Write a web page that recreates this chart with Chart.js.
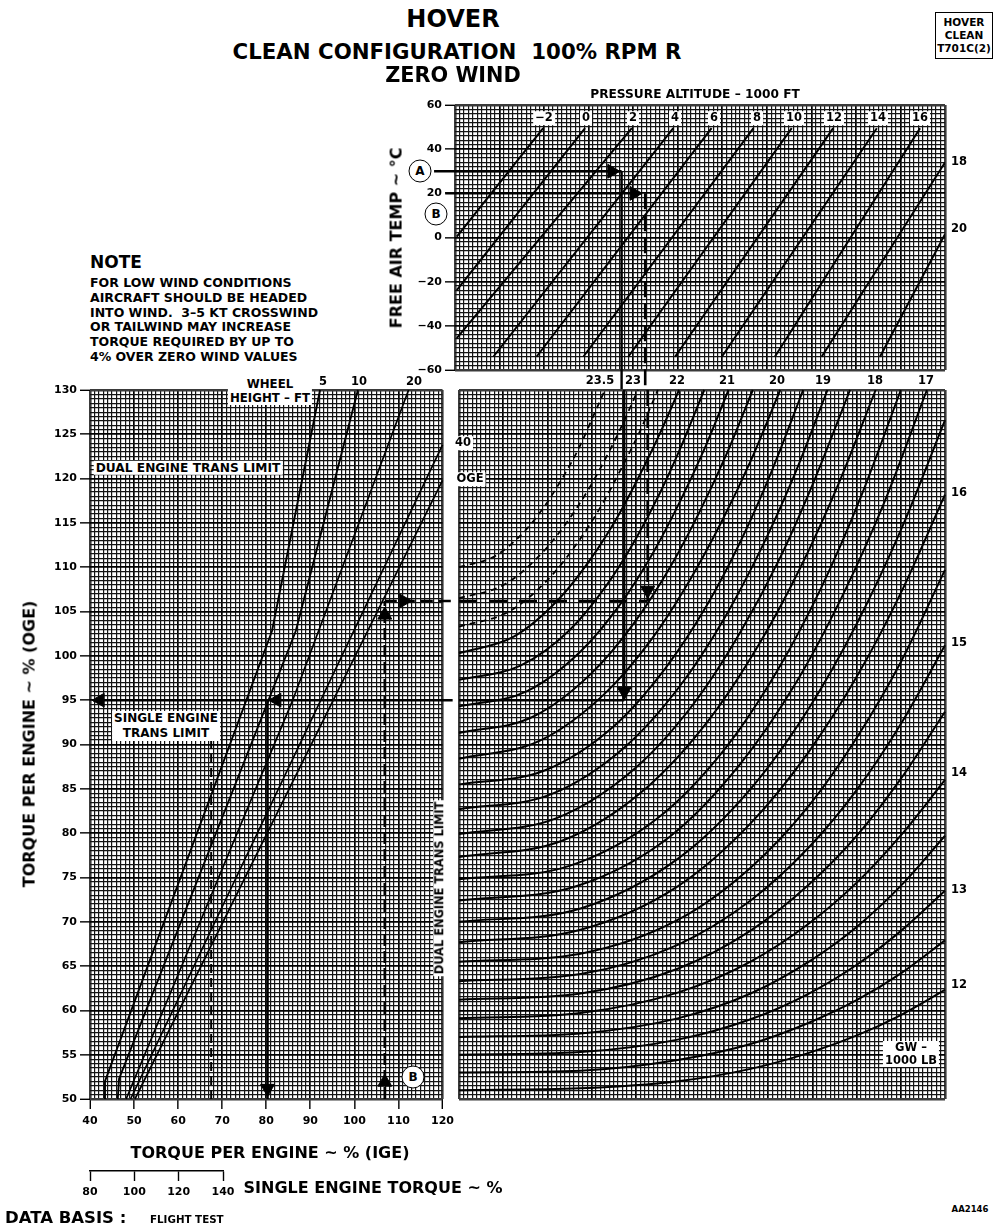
<!DOCTYPE html>
<html>
<head>
<meta charset="utf-8">
<title>HOVER - Clean Configuration 100% RPM R - Zero Wind</title>
<script src="https://cdn.jsdelivr.net/npm/chart.js@4.4.1/dist/chart.umd.min.js"></script>
<style>
  html, body { margin: 0; padding: 0; background: #fff; }
  body { position: relative; width: 997px; height: 1232px; overflow: hidden;
         font-family: "DejaVu Sans", "Liberation Sans", Arial, sans-serif; font-weight: bold; color: #000; }
  canvas { position: absolute; }
  .lbl { position: absolute; white-space: nowrap; line-height: 1.18; transform: translate(-50%, -50%); }
  .bg { background: #fff; padding: 0 2px; }
  .circ { position: absolute; width: 21px; height: 21px; border: 1.6px solid #000; border-radius: 50%;
          background: #fff; transform: translate(-50%, -50%); font-size: 12px; line-height: 21px; text-align: center; }
  .box { position: absolute; border: 1px solid #000; text-align: center; font-size: 10.5px; line-height: 13px; padding: 3px 0; }
</style>
</head>
<body>
<canvas id="cL" width="460" height="780" style="left:0px;top:370px"></canvas>
<canvas id="cTR" width="600" height="312" style="left:380px;top:80px"></canvas>
<canvas id="cBR" width="547" height="730" style="left:450px;top:380px"></canvas>
<canvas id="cSE" width="200" height="60" style="left:60px;top:1150px"></canvas>

<script>
// ===================== DATA =====================
// Tick labels
const torqueTicks = [50, 55, 60, 65, 70, 75, 80, 85, 90, 95, 100, 105, 110, 115, 120, 125, 130];
const igeTicks = [40, 50, 60, 70, 80, 90, 100, 110, 120];
const oatTicks = [-60, -40, -20, 0, 20, 40, 60];
const singleEngineTicks = [80, 100, 120, 140];
const paTopLabels = ['\u22122', '0', '2', '4', '6', '8', '10', '12', '14', '16'];
const paSideLabels = ['18', '20'];
const gwTopLabels = ['23.5', '23', '22', '21', '20', '19', '18', '17'];
const gwSideLabels = ['16', '15', '14', '13', '12'];
const wheelTopLabels = ['5', '10', '20'];
const wheelSideLabels = ['40', 'OGE'];

// Pressure altitude lines (reference scale 0-110, free air temp degC), 1000 ft
const paM2 = [[0.4, 0.4], [19.8, 49.5]];
const pa0 = [[0.4, -23.8], [29.2, 49.5]];
const pa2 = [[0.4, -45.6], [39.7, 49.5]];
const pa4 = [[8.6, -54], [49.0, 49.5]];
const pa6 = [[18.3, -54], [57.6, 49.5]];
const pa8 = [[28.8, -54], [67.0, 49.5]];
const pa10 = [[38.9, -54], [75.6, 49.5]];
const pa12 = [[49.4, -54], [84.9, 49.5]];
const pa14 = [[59.9, -54], [94.7, 49.5]];
const pa16 = [[71.8, -54], [104.4, 49.5]];
const pa18 = [[82.3, -54], [110, 34.0]];
const pa20 = [[95.4, -54], [110, 1.5]];

// Gross weight curves (reference scale 0-110, torque per engine % OGE), 1000 lb
const gw12 = [[0, 51.0], [27.5, 51.2], [49.5, 52.0], [66, 53.4], [79.2, 55.2], [90.2, 57.2], [100.1, 59.5], [110, 62.3]];
const gw12h = [[0, 53.0], [27.5, 53.2], [49.5, 54.4], [66, 56.2], [79.2, 58.6], [90.2, 61.2], [100.1, 64.2], [110, 67.9]];
const gw13 = [[0, 55.0], [27.5, 55.3], [49.5, 56.7], [66, 59.0], [79.2, 61.9], [90.2, 65.2], [100.1, 69.0], [110, 73.5]];
const gw13h = [[0, 57.0], [27.5, 57.4], [49.5, 59.1], [66, 61.9], [79.2, 65.5], [90.2, 69.5], [100.1, 74.1], [110, 79.7]];
const gw14 = [[0, 59.1], [27.5, 59.7], [49.5, 62.0], [66, 65.5], [79.2, 69.8], [90.2, 74.5], [100.1, 79.8], [110, 86.0]];
const gw14h = [[0, 61.2], [27.5, 61.9], [49.5, 64.7], [66, 69.0], [79.2, 74.2], [90.2, 79.8], [100.1, 86.2], [110, 93.7]];
const gw15 = [[0, 63.3], [27.5, 64.1], [49.5, 67.4], [66, 72.4], [79.2, 78.4], [90.2, 85.0], [100.1, 92.4], [110, 101.2]];
const gw15h = [[0, 65.5], [27.5, 66.4], [49.5, 70.2], [66, 76.1], [79.2, 83.1], [90.2, 90.9], [100.1, 99.4], [110, 109.7]];
const gw16 = [[0, 67.7], [27.5, 69.1], [49.5, 74.0], [66, 81.1], [79.2, 89.2], [90.2, 97.8], [100.1, 107.2], [110, 118.2]];
const gw16h = [[0, 70.0], [27.5, 71.5], [49.5, 77.1], [66, 85.0], [79.2, 94.1], [90.2, 103.8], [100.1, 114.3], [110, 126.6]];
const gw17 = [[0, 72.4], [26.5, 74.0], [47.7, 79.6], [63.5, 87.7], [76.2, 96.9], [86.8, 106.8], [96.4, 117.5], [105.9, 130]];
const gw17h = [[0, 74.8], [25, 76.3], [45, 81.7], [60, 89.4], [72, 98.3], [82, 107.7], [91, 118.0], [100, 130]];
const gw18 = [[0, 77.3], [23.6, 79.2], [42.4, 85.1], [56.6, 92.8], [67.9, 101.3], [77.3, 110.0], [85.8, 119.3], [94.3, 130]];
const gw18h = [[0, 79.9], [22.1, 81.7], [39.8, 87.3], [53.1, 94.6], [63.7, 102.7], [72.6, 111.0], [80.5, 119.9], [88.5, 130]];
const gw19 = [[0, 82.7], [20.9, 84.4], [37.5, 89.7], [50, 96.6], [60, 104.2], [68.4, 112.1], [75.9, 120.4], [83.4, 130]];
const gw19h = [[0, 85.5], [19.5, 87.1], [35.1, 92.1], [46.7, 98.6], [56.1, 105.7], [63.9, 113.1], [70.9, 121.0], [77.9, 130]];
const gw20 = [[0, 88.4], [18.2, 90.4], [32.7, 95.6], [43.6, 101.9], [52.3, 108.6], [59.6, 115.3], [66.2, 122.2], [72.7, 130]];
const gw20h = [[0, 91.3], [16.6, 93.1], [29.9, 98.0], [39.9, 103.9], [47.9, 110.1], [54.5, 116.3], [60.5, 122.7], [66.5, 130]];
const gw21 = [[0, 94.3], [15.3, 96.0], [27.5, 100.5], [36.6, 105.9], [43.9, 111.6], [50, 117.4], [55.5, 123.3], [61, 130]];
const gw21h = [[0, 97.3], [13.9, 98.9], [25, 102.9], [33.3, 107.9], [40, 113.2], [45.5, 118.4], [50.5, 123.9], [55.5, 130]];
const gw22 = [[0, 100.3], [12.5, 102.2], [22.4, 106.3], [29.9, 111.0], [35.9, 115.7], [40.8, 120.3], [45.3, 124.9], [49.8, 130]];
const gw22h = [[0, 103.3], [11.3, 105.0], [20.3, 108.7], [27, 112.9], [32.4, 117.1], [36.9, 121.3], [41, 125.4], [45, 130]];
const gw23 = [[0, 106.5], [10.1, 108.0], [18.2, 111.3], [24.3, 115.0], [29.2, 118.7], [33.2, 122.3], [36.9, 126.0], [40.5, 130]];
const gw23h = [[0, 110], [8.3, 111.3], [14.9, 114.1], [19.8, 117.2], [23.8, 120.4], [27.1, 123.4], [30, 126.6], [33, 130]];

// Wheel height lines (torque IGE %, torque OGE %)
const wheel5 = [[43.4, 50], [43.4, 52], [81.3, 102.8], [92.2, 130]];
const wheel10 = [[46.3, 50], [46.6, 52.3], [86.7, 102.8], [100.8, 130]];
const wheel20 = [[48.2, 50], [86.0, 95], [112.3, 130]];
const wheel40 = [[49.2, 50], [120, 123.8]];
const wheelOGE = [[50.2, 50], [120, 119.8]];

// Single engine transmission limit (torque IGE %)
const singleEngineLimit = [[67.5, 50], [67.5, 91]];

// Example A (solid) and example B (dashed)
const pathA_oat = [[-4.7, 30], [37.4, 30]];
const pathA_dropTop = [[37.4, 30], [37.4, -69.1]];
const pathA_dropGW = [[37.4, 130], [37.4, 95]];
const pathA_acrossGW = [[0, 95], [37.4, 95]];
const pathA_acrossWheel = [[40.7, 95], [122.3, 95]];
const pathA_downIGE = [[80.3, 95], [80.3, 50]];
const pathB_oat = [[-2.2, 20], [42.0, 20]];
const pathB_dropTop = [[42.7, 20], [42.7, -69.1]];
const pathB_dropGW = [[42.7, 130], [42.7, 106.2]];
const pathB_acrossGW = [[0, 106.2], [42.7, 106.2]];
const pathB_acrossWheel = [[106.9, 106.2], [122.3, 106.2]];
const pathB_upIGE = [[106.9, 50], [106.9, 106.2]];

// Arrow heads
const arrowsTop = [[35.2, 30], [40.2, 20]];
const arrowsGW = [[37.4, 96.0], [42.7, 107.4]];
const arrowsWheel = [[42.3, 95], [82.4, 95], [80.3, 51.2], [106.9, 104.6], [111.2, 106.2], [106.9, 51.9]];

// ===================== CHARTS =====================
Chart.defaults.font.family = '"DejaVu Sans", "Liberation Sans", sans-serif';
Chart.defaults.font.weight = 'bold';
Chart.defaults.color = '#000';

const near = (a, b) => Math.abs(a - b) < 1e-6;
const inList = (list, v) => !!list && list.some(x => near(x, v));
const minus = v => (v < 0 ? '\u2212' + Math.abs(v) : String(v));
function steps(min, max, step) {
  const out = [], n = Math.round((max - min) / step);
  for (let i = 0; i <= n; i++) out.push(+(min + i * step).toFixed(4));
  return out;
}

function gridAxis({ pos, min, max, step, major, labels, size, tickLen = 0, pad = 3, fmt = String }) {
  const vals = steps(min, max, step);
  const val = c => (c.tick ? c.tick.value : NaN);
  const isMajor = v => Math.abs(v / major - Math.round(v / major)) < 1e-6;
  const isEdge = v => near(v, min) || near(v, max);
  return {
    type: 'linear', position: pos, min, max,
    afterBuildTicks: s => { s.ticks = vals.map(v => ({ value: v })); },
    afterFit: s => { if (pos === 'left' || pos === 'right') s.width = size; else s.height = size; },
    ticks: {
      autoSkip: false, display: !!labels, padding: pad, color: '#000', maxRotation: 0,
      font: { size: 11, weight: 'bold' },
      callback: v => (inList(labels, v) ? fmt(v) : '')
    },
    grid: {
      drawTicks: tickLen > 0, tickLength: tickLen, tickWidth: 1.4,
      color: c => (isEdge(val(c)) ? '#3a3a3a' : isMajor(val(c)) ? '#000' : '#141414'),
      lineWidth: c => (isEdge(val(c)) ? 2.6 : isMajor(val(c)) ? 1.7 : 1.2),
      tickColor: c => (inList(labels, val(c)) ? '#000' : 'rgba(0,0,0,0)')
    },
    border: { display: false }
  };
}

const xy = arr => arr.map(([x, y]) => ({ x, y }));
function lineDs(arr, extra = {}) {
  return Object.assign({
    data: xy(arr), showLine: true, borderColor: '#000', borderWidth: 2,
    pointRadius: 0, fill: false, clip: false
  }, extra);
}
const curve = (arr, extra = {}) => lineDs(arr, Object.assign({ cubicInterpolationMode: 'monotone', borderWidth: 2 }, extra));
const dashed = (arr, extra = {}) => lineDs(arr, Object.assign({ borderDash: [10, 5], borderWidth: 2.2 }, extra));
function arrowDs(arr, rotations) {
  return {
    data: xy(arr), showLine: false, pointStyle: 'triangle', pointRadius: 8, pointRotation: rotations,
    pointBackgroundColor: '#000', pointBorderColor: '#000', pointBorderWidth: 1, clip: false
  };
}
const baseOpts = (padding, scales) => ({
  responsive: false, animation: false, events: [],
  layout: { padding },
  plugins: { legend: { display: false }, tooltip: { enabled: false } },
  scales
});

// ---- Left panel: torque per engine IGE vs OGE, wheel height ----
new Chart(document.getElementById('cL'), {
  type: 'scatter',
  data: {
    datasets: [
      lineDs(wheel5, { borderWidth: 1.9 }),
      lineDs(wheel10, { borderWidth: 1.9 }),
      lineDs(wheel20, { borderWidth: 1.7 }),
      lineDs(wheel40, { borderWidth: 1.7 }),
      lineDs(wheelOGE, { borderWidth: 1.7 }),
      dashed(singleEngineLimit, { borderDash: [9, 5], borderWidth: 2 }),
      lineDs(pathA_acrossWheel, { borderWidth: 2.4 }),
      lineDs(pathA_downIGE, { borderWidth: 2.4 }),
      dashed(pathB_upIGE, { borderWidth: 2.6, borderDash: [12, 5] }),
      dashed(pathB_acrossWheel, { borderWidth: 2.6, borderDash: [12, 6] }),
      arrowDs(arrowsWheel, [270, 270, 180, 0, 90, 0])
    ]
  },
  options: baseOpts({ left: 0, top: 20, right: 15, bottom: 0 }, {
    x: gridAxis({ pos: 'bottom', min: 40, max: 120, step: 1, major: 10, labels: igeTicks, size: 51, tickLen: 10, pad: 6 }),
    y: gridAxis({ pos: 'left', min: 50, max: 130, step: 0.5, major: 5, labels: torqueTicks, size: 90, tickLen: 10, pad: 3 })
  })
});

// ---- Top right panel: free air temperature vs pressure altitude ----
const paLines = [paM2, pa0, pa2, pa4, pa6, pa8, pa10, pa12, pa14, pa16, pa18, pa20];
new Chart(document.getElementById('cTR'), {
  type: 'scatter',
  data: {
    datasets: [
      ...paLines.map(a => lineDs(a, { clip: true })),
      lineDs(pathA_oat, { borderWidth: 2.4 }),
      lineDs(pathA_dropTop, { borderWidth: 2.4 }),
      lineDs(pathB_oat, { borderWidth: 2.4 }),
      dashed(pathB_dropTop, { borderWidth: 2.6, borderDash: [16, 6] }),
      arrowDs(arrowsTop, [90, 90])
    ]
  },
  options: baseOpts({ left: 0, top: 25, right: 35, bottom: 22 }, {
    x: gridAxis({ pos: 'bottom', min: 0, max: 110, step: 1, major: 10, labels: null, size: 0 }),
    y: gridAxis({ pos: 'left', min: -60, max: 60, step: 2, major: 20, labels: oatTicks, size: 75, tickLen: 10, pad: 3, fmt: minus })
  })
});

// ---- Bottom right panel: torque OGE vs gross weight ----
const gwSolid = [gw12, gw12h, gw13, gw13h, gw14, gw14h, gw15, gw15h, gw16, gw16h, gw17, gw17h,
                 gw18, gw18h, gw19, gw19h, gw20, gw20h, gw21, gw21h, gw22];
const gwDashed = [gw22h, gw23, gw23h];
new Chart(document.getElementById('cBR'), {
  type: 'scatter',
  data: {
    datasets: [
      ...gwSolid.map(a => curve(a)),
      ...gwDashed.map(a => curve(a, { borderDash: [6, 5], borderWidth: 1.8 })),
      lineDs(pathA_dropGW, { borderWidth: 2.4 }),
      lineDs(pathA_acrossGW, { borderWidth: 2.4 }),
      dashed(pathB_dropGW, { borderWidth: 2.6, borderDash: [16, 6] }),
      dashed(pathB_acrossGW, { borderWidth: 2.6, borderDash: [18, 12] }),
      arrowDs(arrowsGW, [180, 180])
    ]
  },
  options: baseOpts({ left: 5, top: 10, right: 52, bottom: 11 }, {
    x: gridAxis({ pos: 'bottom', min: 0, max: 110, step: 1, major: 10, labels: null, size: 0 }),
    y: gridAxis({ pos: 'left', min: 50, max: 130, step: 0.5, major: 5, labels: null, size: 0 })
  })
});

// ---- Single engine torque scale ----
new Chart(document.getElementById('cSE'), {
  type: 'scatter',
  data: { datasets: [] },
  options: baseOpts({ left: 30, top: 0, right: 37, bottom: 0 }, {
    x: {
      type: 'linear', position: 'bottom', min: 80, max: 140,
      afterBuildTicks: s => { s.ticks = singleEngineTicks.map(v => ({ value: v })); },
      afterFit: s => { s.height = 39; },
      ticks: { autoSkip: false, padding: 5, color: '#000', font: { size: 11, weight: 'bold' } },
      grid: { drawOnChartArea: false, tickLength: 10, tickColor: '#000', tickWidth: 1.4 },
      border: { display: true, color: '#000', width: 1.4 }
    },
    y: { display: false, min: 0, max: 1 }
  })
});

// ===================== TEXT =====================
function txt(html, x, y, o = {}) {
  const d = document.createElement('div');
  d.className = 'lbl' + (o.bg ? ' bg' : '');
  d.innerHTML = html;
  d.style.left = x + 'px';
  d.style.top = y + 'px';
  d.style.fontSize = (o.size || 11.5) + 'px';
  if (o.align === 'left') d.style.transform = 'translate(0, -50%)';
  if (o.rot) d.style.transform = 'translate(-50%, -50%) rotate(-90deg)';
  if (o.center) d.style.textAlign = 'center';
  if (o.lh) d.style.lineHeight = o.lh + 'px';
  document.body.appendChild(d);
  return d;
}
function circ(s, x, y) {
  const d = document.createElement('div');
  d.className = 'circ';
  d.textContent = s;
  d.style.left = x + 'px';
  d.style.top = y + 'px';
  document.body.appendChild(d);
}

txt('HOVER', 453, 19, { size: 24 });
txt('CLEAN CONFIGURATION&nbsp; 100% RPM R', 457, 52, { size: 21.3 });
txt('ZERO WIND', 453, 75, { size: 20.8 });
const box = document.createElement('div');
box.className = 'box';
box.style.left = '935px'; box.style.top = '12px'; box.style.width = '56px';
box.innerHTML = 'HOVER<br>CLEAN<br>T701C(2)';
document.body.appendChild(box);

txt('PRESSURE ALTITUDE \u2013 1000 FT', 695, 94, { size: 12.2 });
txt('FREE AIR TEMP \u007E \u00B0C', 397, 238, { size: 16, rot: true });

txt('NOTE', 90, 262, { size: 17, align: 'left' });
txt('FOR LOW WIND CONDITIONS<br>AIRCRAFT SHOULD BE HEADED<br>INTO WIND.&nbsp; 3\u20135 KT CROSSWIND<br>OR TAILWIND MAY INCREASE<br>TORQUE REQUIRED BY UP TO<br>4% OVER ZERO WIND VALUES',
    90, 320, { size: 12.5, align: 'left', lh: 14.8 });

// top pressure altitude labels
const paTopX = [544, 586, 633, 675, 714, 757, 794, 834, 878, 920];
paTopLabels.forEach((s, i) => txt(s, paTopX[i], 118, { bg: true }));
const paSideY = [162, 229];
paSideLabels.forEach((s, i) => txt(s, 959, paSideY[i]));

// gross weight labels
const gwTopX = [600, 633, 677, 727, 777, 823, 875, 926];
gwTopLabels.forEach((s, i) => txt(s, gwTopX[i], 381));
const gwSideY = [493, 643, 773, 890, 985];
gwSideLabels.forEach((s, i) => txt(s, 959, gwSideY[i]));
txt('GW \u2013<br>1000 LB', 911, 1054, { size: 11.5, bg: true, center: true, lh: 13 });

// wheel height labels
txt('WHEEL<br>HEIGHT \u2013 FT', 270, 391, { size: 11.8, bg: true, center: true, lh: 14 });
const wheelTopX = [323, 359, 414];
wheelTopLabels.forEach((s, i) => txt(s, wheelTopX[i], 382));
txt(wheelSideLabels[0], 463, 443, { bg: true });
txt(wheelSideLabels[1], 470, 479, { bg: true });

txt('DUAL ENGINE TRANS LIMIT', 188, 468, { size: 12.2, bg: true });
txt('SINGLE ENGINE<br>TRANS LIMIT', 166, 726, { size: 12, bg: true, center: true, lh: 15 });
txt('DUAL ENGINE TRANS LIMIT', 440, 888, { size: 11.4, bg: true, rot: true });

txt('TORQUE PER ENGINE \u007E % (OGE)', 30, 744, { size: 16, rot: true });
txt('TORQUE PER ENGINE \u007E % (IGE)', 270, 1153, { size: 16 });
txt('SINGLE ENGINE TORQUE \u007E %', 373, 1188, { size: 16 });
txt('DATA BASIS :', 5, 1218, { size: 16.5, align: 'left' });
txt('FLIGHT TEST', 150, 1219, { size: 10.3, align: 'left' });
txt('AA2146', 970, 1209, { size: 8.5 });

circ('A', 420, 171);
circ('B', 436, 214);
circ('B', 413, 1077);
</script>
</body>
</html>
